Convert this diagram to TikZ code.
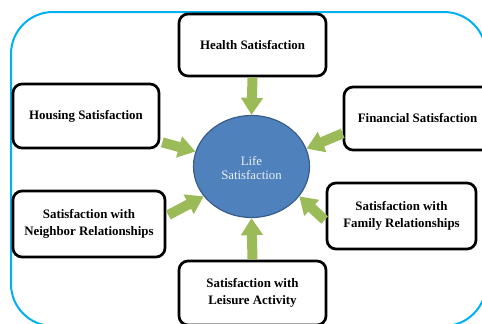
\documentclass[tikz,border=0pt]{standalone}
\usepackage{fontspec}
\setmainfont{Liberation Serif}
\usetikzlibrary{arrows.meta,calc,shapes.geometric}
\definecolor{frameblue}{RGB}{0,176,240}
\definecolor{leafgreen}{RGB}{155,187,89}
\definecolor{orbfill}{RGB}{79,129,189}
\definecolor{orbline}{RGB}{56,93,138}
\definecolor{orbtext}{RGB}{236,240,246}
\begin{document}
\begin{tikzpicture}[x=1pt,y=-1pt,
  factor/.style={draw=black, line width=2.7pt, fill=white, rounded corners=9pt,
    align=center, inner sep=0pt,
    font=\fontsize{12.9}{16.5}\selectfont\bfseries},
  feed/.style={draw=leafgreen, line width=10pt,
    -{Triangle[width=21pt,length=17pt]}}]
\useasboundingbox (0,0) rectangle (482,324);
\clip (0,0) rectangle (482,324);

% outer frame
\draw[frameblue, line width=2pt, rounded corners=42pt] (11,12) rectangle (486,326);

% central ellipse (text set slightly low)
\node[ellipse, draw=orbline, fill=orbfill, line width=1.2pt,
      minimum width=116pt, minimum height=102pt, inner sep=0pt,
      text=orbtext, font=\fontsize{12.8}{15}\selectfont]
      (life) at (251.5,166.5)
      {\raisebox{-3pt}[\height][\depth]{\begin{tabular}{@{}c@{}}Life\\[-1.5pt]Satisfaction\end{tabular}}};

% surrounding factors
\node[factor, minimum width=147pt, minimum height=62pt] (health) at (252.5,45) {Health Satisfaction};
\node[factor, minimum width=146pt, minimum height=64pt] (housing) at (86,116) {Housing Satisfaction};
\node[factor, minimum width=147pt, minimum height=63pt] (financial) at (417.5,118.5) {Financial Satisfaction};
\node[factor, minimum width=152pt, minimum height=66pt] (neighbor) at (89,224) {Satisfaction with\\Neighbor Relationships};
\node[factor, minimum width=149pt, minimum height=66pt] (family) at (401.5,216) {Satisfaction with\\Family Relationships};
\node[factor, minimum width=147pt, minimum height=64pt] (leisure) at (252.5,293) {Satisfaction with\\Leisure Activity};

% arrows into the centre
\draw[feed] (health.south) -- (life.north);
\draw[feed] ($(housing.south east)+(2,-7)$) -- (life.165);
\draw[feed] ($(financial.south west)+(0,-18)$) -- (life.18);
\draw[feed] ($(neighbor.east)+(2,-9)$) -- (life.212);
\draw[feed] ($(family.west)+(-1,4)$) -- (life.328);
\draw[feed] (leisure.north) -- (life.south);
\end{tikzpicture}
\end{document}
